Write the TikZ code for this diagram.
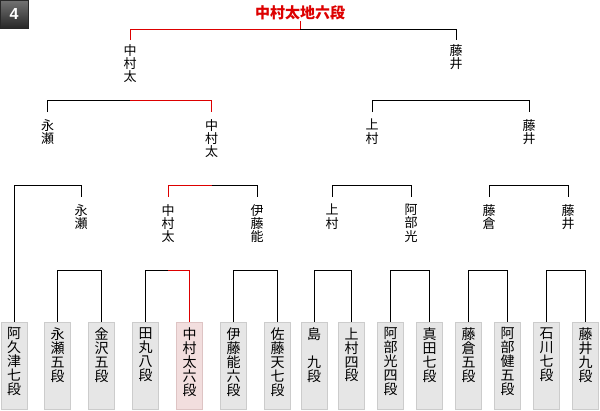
\documentclass[tikz,border=0pt]{standalone}
\usepackage{fontspec}
\newfontfamily\cjk{Noto Sans CJK JP}
\newfontfamily\badgefont{Liberation Sans}
\definecolor{win}{RGB}{221,0,0}
\definecolor{boxfill}{RGB}{230,230,230}
\definecolor{boxline}{RGB}{204,204,204}
\definecolor{winfill}{RGB}{242,222,222}
\definecolor{winline}{RGB}{222,196,196}
\definecolor{badgetop}{RGB}{115,115,115}
\definecolor{badgebot}{RGB}{40,40,40}
\begin{document}
\begin{tikzpicture}[x=1pt,y=-1pt,
  box/.style={draw=boxline, fill=boxfill, minimum width=26pt, minimum height=87pt, inner sep=0, anchor=north, line width=1pt},
  winbox/.style={box, draw=winline, fill=winfill},
  pname/.style={font=\cjk\fontsize{14}{13.9}\selectfont, align=center, inner sep=0, anchor=north},
  lbl/.style={font=\cjk\fontsize{13}{13.3}\selectfont, align=center, inner sep=0, anchor=north},
  conn/.style={line width=1pt, black},
  wconn/.style={line width=1pt, win},
  badge/.style={minimum size=28pt, inner sep=0, top color=badgetop, bottom color=badgebot, draw=badgebot, text=white, font=\badgefont\bfseries\fontsize{16}{16}\selectfont}
]
\useasboundingbox (0,0) rectangle (600,410);
\node[badge] (badge) at (14,14) {4};

% level coordinates
\coordinate (y1) at (0,270.5);
\coordinate (y2) at (0,185.5);
\coordinate (y3) at (0,100.5);
\coordinate (y4) at (0,29.5);

% boxes
\node[box] (b1) at (14,321.5) {};
\node[box] (b2) at (57.5,321.5) {};
\node[box] (b3) at (101.5,321.5) {};
\node[box] (b4) at (145.5,321.5) {};
\node[winbox] (b5) at (189.5,321.5) {};
\node[box] (b6) at (233.5,321.5) {};
\node[box] (b7) at (277.5,321.5) {};
\node[box] (b8) at (314,321.5) {};
\node[box] (b9) at (351.5,321.5) {};
\node[box] (b10) at (390.5,321.5) {};
\node[box] (b11) at (429.5,321.5) {};
\node[box] (b12) at (468.5,321.5) {};
\node[box] (b13) at (507.5,321.5) {};
\node[box] (b14) at (546.5,321.5) {};
\node[box] (b15) at (585.5,321.5) {};

\node[pname] (t1) at ([yshift=-6pt]b1.north) {阿\\久\\津\\七\\段};
\node[pname] (t2) at ([yshift=-6pt]b2.north) {永\\瀬\\五\\段};
\node[pname] (t3) at ([yshift=-6pt]b3.north) {金\\沢\\五\\段};
\node[pname] (t4) at ([yshift=-6pt]b4.north) {田\\丸\\八\\段};
\node[pname] (t5) at ([yshift=-6pt]b5.north) {中\\村\\太\\六\\段};
\node[pname] (t6) at ([yshift=-6pt]b6.north) {伊\\藤\\能\\六\\段};
\node[pname] (t7) at ([yshift=-6pt]b7.north) {佐\\藤\\天\\七\\段};
\node[pname] (t8) at ([yshift=-6pt]b8.north) {島\\　\\九\\段};
\node[pname] (t9) at ([yshift=-6pt]b9.north) {上\\村\\四\\段};
\node[pname] (t10) at ([yshift=-6pt]b10.north) {阿\\部\\光\\四\\段};
\node[pname] (t11) at ([yshift=-6pt]b11.north) {真\\田\\七\\段};
\node[pname] (t12) at ([yshift=-6pt]b12.north) {藤\\倉\\五\\段};
\node[pname] (t13) at ([yshift=-6pt]b13.north) {阿\\部\\健\\五\\段};
\node[pname] (t14) at ([yshift=-6pt]b14.north) {石\\川\\七\\段};
\node[pname] (t15) at ([yshift=-6pt]b15.north) {藤\\井\\九\\段};

% round labels
\node[lbl] (L2a) at (81,204) {永\\瀬};
\node[lbl] (L2b) at (168,204) {中\\村\\太};
\node[lbl] (L2c) at (257,204) {伊\\藤\\能};
\node[lbl] (L2d) at (332,204) {上\\村};
\node[lbl] (L2e) at (411,204) {阿\\部\\光};
\node[lbl] (L2f) at (489,204) {藤\\倉};
\node[lbl] (L2g) at (568,204) {藤\\井};

\node[lbl] (L3a) at (47.5,119) {永\\瀬};
\node[lbl] (L3b) at (211.5,119) {中\\村\\太};
\node[lbl] (L3c) at (372,119) {上\\村};
\node[lbl] (L3d) at (529,119) {藤\\井};

\node[lbl] (L4a) at (130,44) {中\\村\\太};
\node[lbl] (L4b) at (456,44) {藤\\井};

\node[font=\cjk\bfseries\fontsize{15}{15}\selectfont, text=win, inner sep=0, anchor=north] (title) at (300,5) {中村太地六段};

% round 1
\draw[conn] (b2.north) -- (b2.north |- y1) -- (b3.north |- y1) -- (b3.north);
\draw[conn] (b4.north) -- (b4.north |- y1) -- (L2b |- y1);
\draw[wconn] (L2b |- y1) -- (b5.north |- y1) -- (b5.north);
\draw[conn] (b6.north) -- (b6.north |- y1) -- (b7.north |- y1) -- (b7.north);
\draw[conn] (b8.north) -- (b8.north |- y1) -- (b9.north |- y1) -- (b9.north);
\draw[conn] (b10.north) -- (b10.north |- y1) -- (b11.north |- y1) -- (b11.north);
\draw[conn] (b12.north) -- (b12.north |- y1) -- (b13.north |- y1) -- (b13.north);
\draw[conn] (b14.north) -- (b14.north |- y1) -- (b15.north |- y1) -- (b15.north);

% round 2
\draw[conn] (b1.north) -- (b1.north |- y2) -- (L2a |- y2) -- ([yshift=7pt]L2a.north);
\draw[wconn] ([yshift=7pt]L2b.north) -- (L2b |- y2) -- (L3b |- y2);
\draw[conn] (L3b |- y2) -- (L2c |- y2) -- ([yshift=7pt]L2c.north);
\draw[conn] ([yshift=7pt]L2d.north) -- (L2d |- y2) -- (L2e |- y2) -- ([yshift=7pt]L2e.north);
\draw[conn] ([yshift=7pt]L2f.north) -- (L2f |- y2) -- (L2g |- y2) -- ([yshift=7pt]L2g.north);

% round 3
\draw[conn] ([yshift=7pt]L3a.north) -- (L3a |- y3) -- (L4a |- y3);
\draw[wconn] (L4a |- y3) -- (L3b |- y3) -- ([yshift=7pt]L3b.north);
\draw[conn] ([yshift=7pt]L3c.north) -- (L3c |- y3) -- (L3d |- y3) -- ([yshift=7pt]L3d.north);

% round 4
\draw[wconn] ([yshift=4pt]L4a.north) -- (L4a |- y4) -- (title |- y4) -- ([yshift=-1pt]title.south);
\draw[conn] (title |- y4) -- (L4b |- y4) -- ([yshift=4pt]L4b.north);
\end{tikzpicture}
\end{document}
